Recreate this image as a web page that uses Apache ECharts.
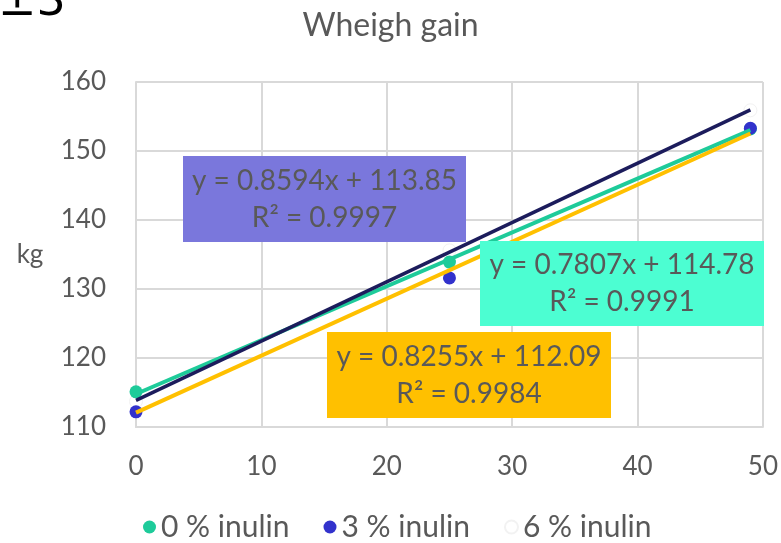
<!DOCTYPE html>
<html>
<head>
<meta charset="utf-8">
<script src="https://cdn.jsdelivr.net/npm/echarts@6/dist/echarts.min.js"></script>
<style>
html,body{margin:0;padding:0;background:#fff;}
#chart{width:781px;height:543px;}
</style>
</head>
<body>
<div id="chart"></div>
<script>
// ---- data ----
var seriesNames = ['0 % inulin', '3 % inulin', '6 % inulin'];
var days = [0, 25, 49];
var inulin0 = [115.1, 133.9, 153.2];
var inulin3 = [112.2, 131.6, 153.3];
var inulin6 = [113.7, 135.6, 155.9];
// trendline end values at x = 0 and x = 49 (read from the fitted equations)
var trendX = [0, 49];
var trend0 = [114.78, 153.03];
var trend3 = [112.09, 152.54];
var trend6 = [113.85, 155.96];
var eq0 = ['y = 0.7807x + 114.78', 'R² = 0.9991'];
var eq3 = ['y = 0.8255x + 112.09', 'R² = 0.9984'];
var eq6 = ['y = 0.8594x + 113.85', 'R² = 0.9997'];
var xTicks = [0, 10, 20, 30, 40, 50];
var yTicks = [110, 120, 130, 140, 150, 160];

function pairs(xs, ys) { return xs.map(function (x, i) { return [x, ys[i]]; }); }

var FONT = 'Lato';
var TXT = '#595959';
var C0 = '#1ecb9a', C3 = '#3232cc', C6 = '#ffffff';
var L0 = '#1ecb9a', L3 = '#ffc000', L6 = '#1c1c5c';

var chart = echarts.init(document.getElementById('chart'));

function eqBox(x, y, w, h, fill, lines) {
  return {
    type: 'group', x: x, y: y, z: 100,
    children: [
      { type: 'rect', z: 100, shape: { x: 0, y: 0, width: w, height: h }, style: { fill: fill } },
      { type: 'text', z: 101, x: w / 2, y: h / 2, style: {
        text: lines.join('\n'), fill: TXT, font: '28px ' + FONT,
        align: 'center', verticalAlign: 'middle', lineHeight: 37 } }
    ]
  };
}

chart.setOption({
  animation: false,
  backgroundColor: '#fff',
  title: {
    text: 'Wheigh gain', left: 'center', top: 5,
    textStyle: { color: TXT, fontFamily: FONT, fontSize: 32, fontWeight: 'normal' }
  },
  grid: { left: 136, right: 15, top: 82, bottom: 116 },
  legend: {
    data: seriesNames, top: 507, left: 138, itemGap: 34,
    icon: 'circle', itemWidth: 13, itemHeight: 13,
    textStyle: { color: TXT, fontFamily: FONT, fontSize: 30 }
  },
  xAxis: {
    type: 'value', min: xTicks[0], max: xTicks[xTicks.length - 1], interval: 10,
    axisLine: { show: true, lineStyle: { color: '#d9d9d9', width: 2 } },
    axisTick: { show: false },
    splitLine: { show: true, lineStyle: { color: '#d9d9d9', width: 2 } },
    axisLabel: { color: TXT, fontFamily: FONT, fontSize: 26, margin: 27 }
  },
  yAxis: {
    type: 'value', min: yTicks[0], max: yTicks[yTicks.length - 1], interval: 10,
    name: 'kg', nameLocation: 'middle', nameRotate: 0, nameGap: 106,
    nameTextStyle: { color: TXT, fontFamily: FONT, fontSize: 26, align: 'center' },
    axisLine: { show: true, lineStyle: { color: '#d9d9d9', width: 2 } },
    axisTick: { show: false },
    splitLine: { show: true, lineStyle: { color: '#d9d9d9', width: 2 } },
    axisLabel: { color: TXT, fontFamily: FONT, fontSize: 26, margin: 30 }
  },
  series: [
    { name: seriesNames[0], type: 'scatter', data: pairs(days, inulin0), symbolSize: 13, itemStyle: { color: C0, opacity: 1 }, z: 2 },
    { name: seriesNames[1], type: 'scatter', data: pairs(days, inulin3), symbolSize: 13, itemStyle: { color: C3, opacity: 1 }, z: 3 },
    { name: seriesNames[2], type: 'scatter', data: pairs(days, inulin6), symbolSize: 13, itemStyle: { color: C6, opacity: 1, borderColor: '#f2f2f2', borderWidth: 1 }, z: 1 },
    { name: 'trend0', type: 'line', data: pairs(trendX, trend0), showSymbol: false, lineStyle: { color: L0, width: 4 }, z: 4, silent: true },
    { name: 'trend6', type: 'line', data: pairs(trendX, trend6), showSymbol: false, lineStyle: { color: L6, width: 3.5 }, z: 4, silent: true },
    { name: 'trend3', type: 'line', data: pairs(trendX, trend3), showSymbol: false, lineStyle: { color: L3, width: 4 }, z: 5, silent: true }
  ],
  graphic: [
    { type: 'text', left: -2, top: -20, style: { text: '±3', fill: '#000', font: '46px "DejaVu Sans"' } },
    eqBox(183, 156, 283, 86, '#7a77dc', eq6),
    eqBox(480, 241, 284, 85, '#4cfed2', eq0),
    eqBox(327, 332, 284, 86, '#ffc000', eq3)
  ]
});
</script>
</body>
</html>
